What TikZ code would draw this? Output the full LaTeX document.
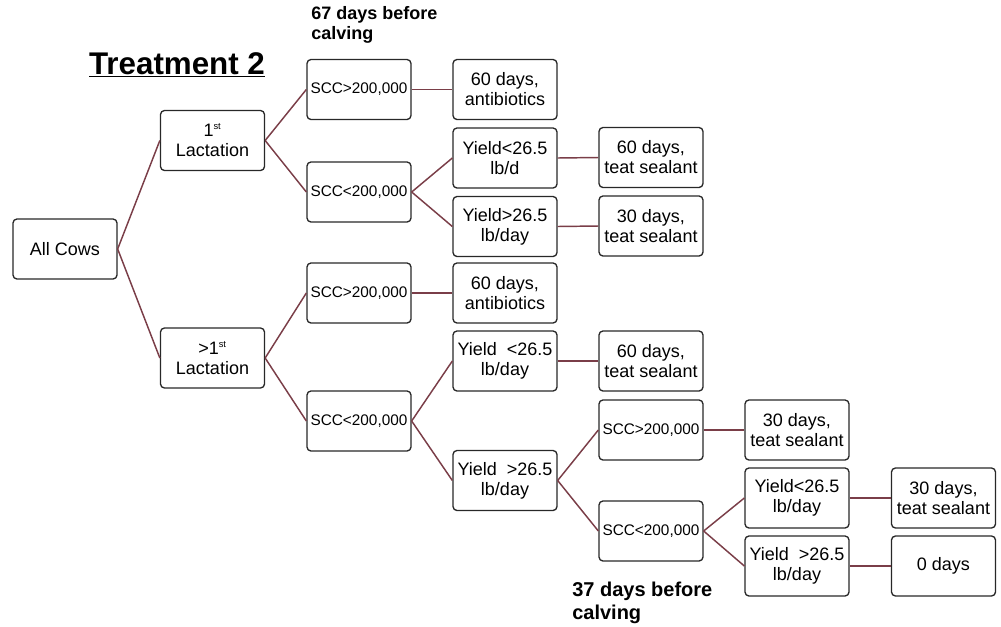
\documentclass[tikz,border=0pt]{standalone}
\usepackage{fontspec}
\setmainfont{Liberation Sans}
\usepackage{xcolor}
\usetikzlibrary{positioning}
\definecolor{linkred}{RGB}{122,62,72}
\definecolor{boxline}{RGB}{40,40,40}
\tikzset{
  choice/.style={draw=boxline, line width=1pt, rounded corners=3pt, fill=white,
    minimum width=78pt, minimum height=45pt, inner sep=1pt, align=center,
    font=\fontsize{13.5}{15}\selectfont},
  scc/.style={choice, font=\fontsize{11.5}{13}\selectfont},
  link/.style={linkred, line width=1.1pt},
  stage/.style={anchor=north west, align=left, inner sep=0pt, font=\bfseries\fontsize{13.5}{15.5}\selectfont},
}

\begin{document}
\begin{tikzpicture}[x=0.75pt,y=-0.75pt]
  \useasboundingbox (0,0) rectangle (1001,626);
  \node[font=\bfseries\fontsize{23.5}{26}\selectfont, inner sep=0pt] (title) at (177,65) {\underline{Treatment 2}};
  \node[stage] (early) at (311,6) {67 days before\\calving};
  \node[stage, font=\bfseries\fontsize{15}{17}\selectfont] (late) at (572,582) {37 days before\\calving};
  % tree
  \node[choice] (all) at (65,249) {All Cows};
  \node[choice] (lactA) at (212.5,140.5) {1\textsuperscript{\scriptsize st}\\Lactation};
  \node[choice] (lactB) at (212.5,358) {>1\textsuperscript{\scriptsize st}\\Lactation};
  \node[scc] (sccA) at (359,89.5) {SCC>200,000};
  \node[scc] (sccB) at (359,192) {SCC<200,000};
  \node[scc] (sccC) at (359,293) {SCC>200,000};
  \node[scc] (sccD) at (359,421) {SCC<200,000};
  \node[choice] (abxA) at (505,89.5) {60 days,\\antibiotics};
  \node[choice] (yieldA) at (505,158) {Yield<26.5\\lb/d};
  \node[choice] (yieldB) at (505,226.5) {Yield>26.5\\lb/day};
  \node[choice] (abxB) at (505,293) {60 days,\\antibiotics};
  \node[choice] (yieldC) at (505,361) {Yield \ <26.5\\lb/day};
  \node[choice] (yieldD) at (505,480.5) {Yield \ >26.5\\lb/day};
  \node[choice] (sealA) at (651,157.5) {60 days,\\teat sealant};
  \node[choice] (sealB) at (651,226) {30 days,\\teat sealant};
  \node[choice] (sealC) at (651,361) {60 days,\\teat sealant};
  \node[scc] (sccE) at (651,430) {SCC>200,000};
  \node[scc] (sccF) at (651,531) {SCC<200,000};
  \node[choice] (sealD) at (797,430) {30 days,\\teat sealant};
  \node[choice] (yieldE) at (797,498) {Yield<26.5\\lb/day};
  \node[choice] (yieldF) at (797,566) {Yield \ >26.5\\lb/day};
  \node[choice] (sealE) at (943.5,498) {30 days,\\teat sealant};
  \node[choice] (zero) at (943.5,566) {0 days};
  \foreach \a/\b in {all/lactA, all/lactB, lactA/sccA, lactA/sccB, lactB/sccC, lactB/sccD,
      sccA/abxA, sccB/yieldA, sccB/yieldB, sccC/abxB, sccD/yieldC, sccD/yieldD,
      yieldA/sealA, yieldB/sealB, yieldC/sealC, yieldD/sccE, yieldD/sccF,
      sccE/sealD, sccF/yieldE, sccF/yieldF, yieldE/sealE, yieldF/zero}
    \draw[link] (\a.east) -- (\b.west);
\end{tikzpicture}
\end{document}
